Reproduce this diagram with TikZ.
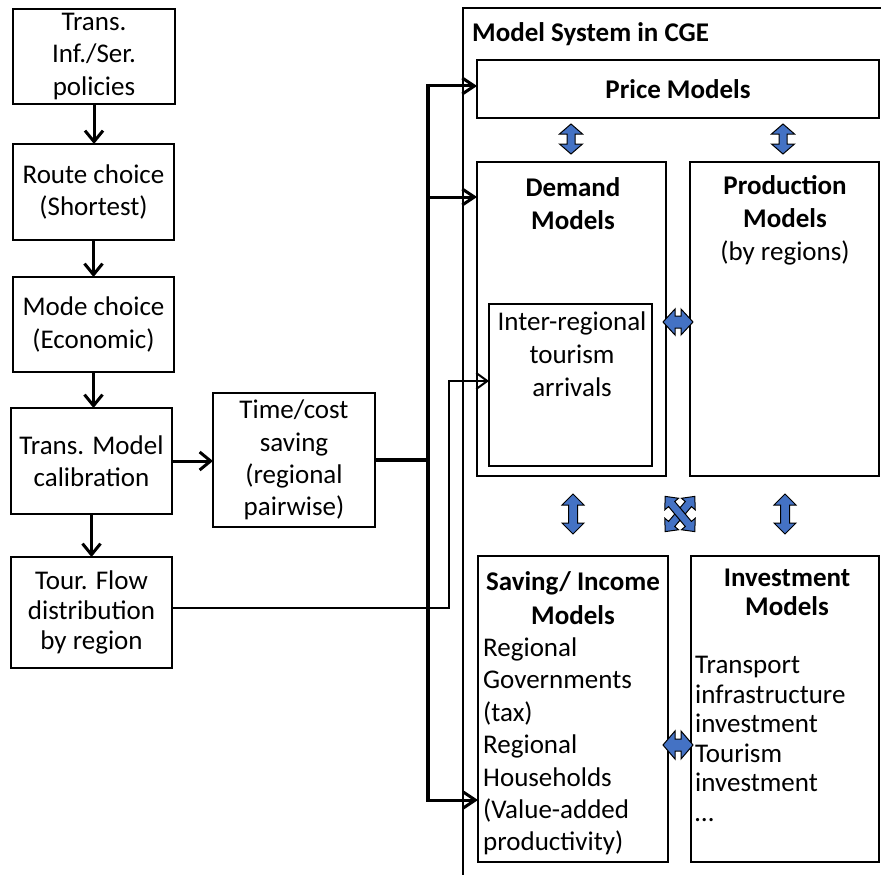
\documentclass[tikz,border=0pt]{standalone}
\usepackage{fontspec}
\setmainfont{Carlito}
\usetikzlibrary{arrows.meta}
\definecolor{arrowblue}{HTML}{4472C4}
\begin{document}
\begin{tikzpicture}[x=1pt,y=-1pt,
  box/.style={draw,line width=1.8pt,inner sep=0pt,outer sep=0pt},
  txt/.style={align=center,inner sep=0pt,font=\fontsize{27}{32.4}\selectfont},
  tighttxt/.style={inner sep=0pt,font=\fontsize{27}{29.5}\selectfont},
  flow/.style={line width=3pt,-{Straight Barb[length=11pt,width=18pt,line width=3pt]}},
  branch/.style={line width=3pt,-{Straight Barb[length=12pt,width=16pt,line width=3pt]}},
  thinflow/.style={line width=2pt,-{Straight Barb[length=11pt,width=16pt,line width=2pt]}},
  trunk/.style={line width=4pt},
  blockarrow/.style={draw=black,line width=1pt,fill=arrowblue,line join=miter},
  pics/dblarrow/.style n args={4}{code={%
    \draw[blockarrow] (-#1,0) -- (-#1+#2,#3) -- (-#1+#2,#4) -- (#1-#2,#4) -- (#1-#2,#3)
      -- (#1,0) -- (#1-#2,-#3) -- (#1-#2,-#4) -- (-#1+#2,-#4) -- (-#1+#2,-#3) -- cycle;
  }}
]
\useasboundingbox (0,0) rectangle (881,875);

% transport side
\node[box,txt,minimum width=162pt,minimum height=95pt] (b1) at (94,56.5) {Trans.\\Inf./Ser.\\policies};
\node[box,txt,minimum width=161pt,minimum height=96pt] (b2) at (93.5,192) {Route choice\\(Shortest)};
\node[box,txt,minimum width=161pt,minimum height=95pt] (b3) at (93.5,324.5) {Mode choice\\(Economic)};
\node[box,txt,minimum width=161pt,minimum height=106pt] (b4) at (91.5,461) {Trans. Model\\calibration};
\node[box,txt,minimum width=161pt,minimum height=111pt,font=\fontsize{27}{30}\selectfont] (b5) at (91.5,612.5) {Tour. Flow\\distribution\\by region};
\node[box,txt,minimum width=162pt,minimum height=134pt] (b6) at (294,460) {Time/cost\\saving\\(regional\\pairwise)};

\draw[flow] (b1.south) -- (b1.south |- b2.north);
\draw[flow] (b2.south) -- (b2.south |- b3.north);
\draw[flow] (b3.south) -- (b3.south |- b4.north);
\draw[flow] (b4.south) -- (b4.south |- b5.north);
\draw[flow] (b4.east) -- (b4.east -| b6.west);

% CGE frame
\draw[line width=1.8pt] (463,885) -- (463,8) -- (890,8);
\node[anchor=west,inner sep=0pt,font=\fontsize{27}{32}\selectfont\bfseries] (cge) at (472,34) {Model System in CGE};

\node[box,txt,font=\fontsize{27}{32}\selectfont\bfseries,minimum width=402pt,minimum height=58pt] (price) at (678,89) {Price Models};
\node[box,minimum width=189pt,minimum height=314pt] (demand) at (571.5,319) {};
\node[box,minimum width=189pt,minimum height=314pt] (prod) at (784.5,319) {};
\node[box,minimum width=163pt,minimum height=162pt] (inner) at (570.5,385) {};
\node[box,minimum width=190pt,minimum height=306pt] (saving) at (573,709) {};
\node[box,minimum width=188pt,minimum height=306pt] (invest) at (785,709) {};

\node[txt,font=\fontsize{27}{33}\selectfont\bfseries] (demandtitle) at (573,203.5) {Demand\\Models};
\node[txt,font=\fontsize{27}{33}\selectfont] (prodtitle) at (785,220) {\textbf{Production}\\\textbf{Models}\\(by regions)};
\node[txt,font=\fontsize{27}{33}\selectfont] (innertxt) at (572,354) {Inter-regional\\tourism\\arrivals};
\node[txt,font=\fontsize{27}{34}\selectfont\bfseries] (savingtitle) at (573,598) {Saving/ Income\\Models};
\node[txt,align=left,anchor=west] (savingbody) at (483,746.5) {Regional\\Governments\\(tax)\\Regional\\Households\\(Value-added\\productivity)};
\node[tighttxt,align=center,font=\fontsize{27}{29}\selectfont\bfseries] (investtitle) at (787,592) {Investment\\Models};
\node[tighttxt,align=left,anchor=west] (investbody) at (695,739) {Transport\\infrastructure\\investment\\Tourism\\investment\\…};

% links into the CGE models
\coordinate (tj) at (428,460);
\coordinate (j1) at (428,86);
\coordinate (j2) at (428,197);
\coordinate (j3) at (428,800);
\draw[trunk] (b6.east) -- (tj);
\draw[trunk] ([yshift=2pt]j1) -- ([yshift=-2pt]j3);
\draw[branch] ([xshift=-2pt]j1) -- (j1 -| price.west);
\draw[branch] (j2) -- (j2 -| demand.west);
\draw[branch] (j3) -- (j3 -| saving.west);

\coordinate (k1) at (449,608);
\coordinate (k2) at (449,381);
\draw[thinflow] (b5.east |- k1) -- (k1) -- (k2) -- (k2 -| inner.west);

% interactions between models
\pic[rotate=90] at (571,139) {dblarrow={15}{10}{11.5}{4}};
\pic[rotate=90] at (783,139) {dblarrow={15}{10}{11.5}{4}};
\pic at (678,322) {dblarrow={15}{12}{13}{6}};
\pic[rotate=90] at (573,514) {dblarrow={20}{11}{11}{4.5}};
\pic[rotate=90] at (785,514) {dblarrow={20}{11}{11}{4.5}};
\pic[rotate=50] at (680,514) {dblarrow={23}{10}{9}{4}};
\pic[rotate=-50] at (680,514) {dblarrow={23}{10}{9}{4}};
\pic at (678,745) {dblarrow={15}{12}{14}{6}};
\end{tikzpicture}
\end{document}
